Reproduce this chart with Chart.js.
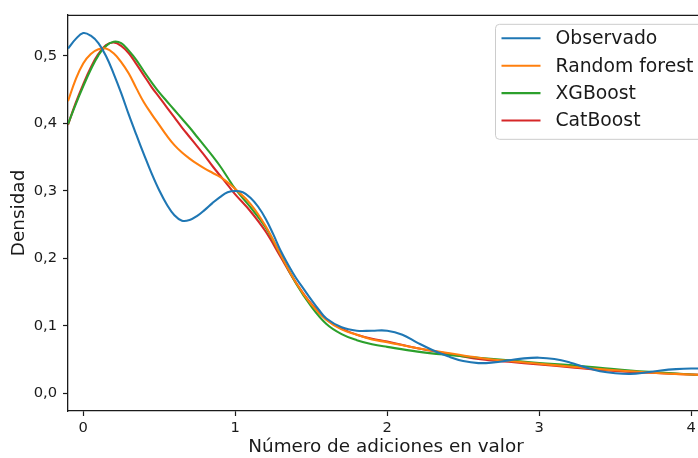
<!DOCTYPE html>
<html><head><meta charset="utf-8">
<script src="https://cdn.jsdelivr.net/npm/chart.js@4.4.1/dist/chart.umd.min.js"></script>
<style>
html,body{margin:0;padding:0;overflow:hidden;background:#fff;width:698px;height:458px}
#wrap{position:absolute;left:0;top:0;width:712px;height:458px}
</style>
</head><body><div id="wrap"><canvas id="c" width="712" height="458"></canvas></div>
<script>
const seriesLabels = ['Observado', 'Random forest', 'XGBoost', 'CatBoost'];
const xTicks = [0, 1, 2, 3, 4];
const yTicks = [0, 0.1, 0.2, 0.3, 0.4, 0.5];

const xObs = [-0.1,-0.05,0,0.05,0.1,0.15,0.2,0.25,0.3,0.35,0.4,0.45,0.5,0.55,0.6,0.65,0.7,0.75,0.8,0.85,0.9,0.95,1.0,1.05,1.1,1.15,1.2,1.25,1.3,1.35,1.4,1.45,1.5,1.55,1.6,1.7,1.8,1.9,2.0,2.1,2.2,2.3,2.4,2.5,2.6,2.7,2.8,2.9,3.0,3.1,3.2,3.3,3.4,3.5,3.6,3.7,3.8,3.9,4.0,4.1];
const yObs = [0.511,0.525,0.534,0.530,0.519,0.500,0.474,0.445,0.413,0.383,0.354,0.326,0.301,0.280,0.264,0.256,0.257,0.263,0.272,0.282,0.291,0.298,0.300,0.298,0.290,0.277,0.259,0.236,0.211,0.190,0.171,0.155,0.139,0.124,0.111,0.098,0.093,0.093,0.093,0.087,0.075,0.064,0.055,0.048,0.045,0.046,0.049,0.052,0.053,0.051,0.046,0.039,0.033,0.030,0.029,0.031,0.034,0.036,0.037,0.037];

const xModel = [-0.1,-0.05,0,0.05,0.1,0.15,0.2,0.25,0.3,0.35,0.4,0.45,0.5,0.55,0.6,0.65,0.7,0.75,0.8,0.85,0.9,0.95,1.0,1.1,1.2,1.3,1.4,1.5,1.6,1.7,1.8,1.9,2.0,2.2,2.4,2.6,2.8,3.0,3.2,3.4,3.6,3.8,4.0,4.1];
const yRF  = [0.433,0.465,0.489,0.503,0.510,0.511,0.504,0.491,0.474,0.452,0.431,0.414,0.398,0.382,0.368,0.357,0.348,0.340,0.333,0.327,0.321,0.313,0.303,0.281,0.248,0.205,0.164,0.132,0.109,0.095,0.087,0.080,0.076,0.067,0.060,0.053,0.048,0.044,0.040,0.036,0.033,0.030,0.028,0.027];
const yXGB = [0.399,0.428,0.455,0.480,0.501,0.515,0.521,0.519,0.508,0.494,0.477,0.461,0.446,0.433,0.420,0.407,0.394,0.380,0.366,0.352,0.337,0.320,0.303,0.276,0.246,0.205,0.163,0.129,0.103,0.088,0.079,0.073,0.069,0.062,0.057,0.053,0.049,0.045,0.042,0.038,0.034,0.031,0.028,0.027];
const yCat = [0.398,0.430,0.458,0.483,0.503,0.516,0.520,0.515,0.504,0.488,0.471,0.454,0.439,0.424,0.409,0.394,0.380,0.366,0.352,0.337,0.323,0.309,0.295,0.270,0.240,0.202,0.164,0.133,0.110,0.096,0.087,0.081,0.077,0.067,0.059,0.051,0.047,0.043,0.039,0.035,0.032,0.030,0.028,0.027];

const colors = ['#1f77b4', '#ff7f0e', '#2ca02c', '#d62728'];
const FONT = '"DejaVu Sans", sans-serif';
const pts = (xs, ys) => xs.map((x, i) => ({x: x, y: ys[i]}));

const mkDs = (i, data) => ({
  label: seriesLabels[i], data: data, borderColor: colors[i], backgroundColor: colors[i],
  borderWidth: 2.1, pointRadius: 0, fill: false, tension: 0.4
});

const framePlugin = {
  id: 'frame',
  afterDraw(chart) {
    const {ctx, chartArea: a} = chart;
    ctx.save();
    ctx.strokeStyle = '#1a1a1a'; ctx.lineWidth = 1.3;
    ctx.beginPath(); ctx.moveTo(a.left, a.top + 0.5); ctx.lineTo(a.right, a.top + 0.5);
    ctx.moveTo(a.right, a.top); ctx.lineTo(a.right, a.bottom);
    ctx.stroke();
    ctx.restore();
  }
};

const legendPlugin = {
  id: 'mplLegend',
  afterDatasetsDraw(chart) {
    const {ctx, chartArea: a} = chart;
    const bx = a.right - 208.5, by = a.top + 9.5, bw = 240, bh = 115, r = 4;
    ctx.save();
    ctx.beginPath();
    ctx.moveTo(bx + r, by); ctx.lineTo(bx + bw - r, by); ctx.quadraticCurveTo(bx + bw, by, bx + bw, by + r);
    ctx.lineTo(bx + bw, by + bh - r); ctx.quadraticCurveTo(bx + bw, by + bh, bx + bw - r, by + bh);
    ctx.lineTo(bx + r, by + bh); ctx.quadraticCurveTo(bx, by + bh, bx, by + bh - r);
    ctx.lineTo(bx, by + r); ctx.quadraticCurveTo(bx, by, bx + r, by);
    ctx.closePath();
    ctx.fillStyle = 'rgba(255,255,255,0.8)'; ctx.fill();
    ctx.strokeStyle = '#cccccc'; ctx.lineWidth = 1; ctx.stroke();
    chart.data.datasets.forEach((ds, i) => {
      const cy = by + 14 + i * 27.4;
      ctx.beginPath(); ctx.strokeStyle = ds.borderColor; ctx.lineWidth = 2.1;
      ctx.moveTo(bx + 6, cy); ctx.lineTo(bx + 45, cy); ctx.stroke();
      ctx.fillStyle = '#1a1a1a'; ctx.font = '18.8px ' + FONT; ctx.textBaseline = 'middle'; ctx.textAlign = 'left';
      ctx.fillText(ds.label, bx + 60, cy + 1);
    });
    ctx.restore();
  }
};

new Chart(document.getElementById('c'), {
  type: 'line',
  data: {
    datasets: [
      mkDs(0, pts(xObs, yObs)),
      mkDs(1, pts(xModel, yRF)),
      mkDs(2, pts(xModel, yXGB)),
      mkDs(3, pts(xModel, yCat))
    ]
  },
  options: {
    responsive: false, animation: false, devicePixelRatio: 1,
    layout: {padding: {top: 13, right: 8, left: 0, bottom: 0}},
    plugins: {legend: {display: false}, tooltip: {enabled: false}},
    scales: {
      x: {
        type: 'linear', min: -0.1, max: 4.084,
        afterBuildTicks: s => { s.ticks = xTicks.map(v => ({value: v})); },
        afterFit: s => { s.height = 47; },
        ticks: {includeBounds: false, color: '#1a1a1a', font: {family: FONT, size: 14.7}, padding: 3,
                maxRotation: 0, autoSkip: false, callback: v => String(v)},
        grid: {display: true, drawOnChartArea: false, drawTicks: true, tickLength: 5, tickColor: '#1a1a1a', tickWidth: 1.2},
        border: {display: true, color: '#1a1a1a', width: 1.3},
        title: {display: true, text: 'Número de adiciones en valor', color: '#1a1a1a',
                font: {family: FONT, size: 18.4}, padding: {top: 0, bottom: 0}}
      },
      y: {
        type: 'linear', min: -0.026, max: 0.561,
        afterBuildTicks: s => { s.ticks = yTicks.map(v => ({value: v})); },
        afterFit: s => { s.width = 68; },
        ticks: {includeBounds: false, color: '#1a1a1a', font: {family: FONT, size: 14.7}, padding: 6,
                autoSkip: false, callback: v => v.toFixed(1).replace('.', ',')},
        grid: {display: true, drawOnChartArea: false, drawTicks: true, tickLength: 5, tickColor: '#1a1a1a', tickWidth: 1.2},
        border: {display: true, color: '#1a1a1a', width: 1.3},
        title: {display: true, text: 'Densidad', color: '#1a1a1a',
                font: {family: FONT, size: 18.4}, padding: {top: 8, bottom: 0}}
      }
    }
  },
  plugins: [framePlugin, legendPlugin]
});
</script></body></html>
